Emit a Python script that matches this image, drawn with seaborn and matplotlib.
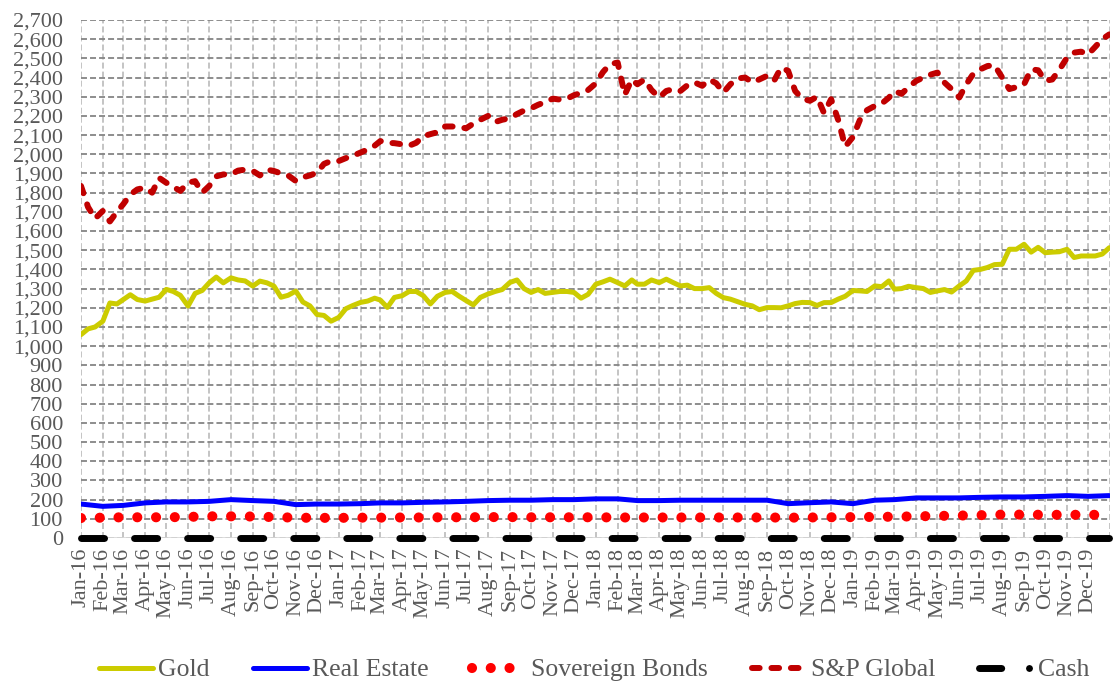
import numpy as np
import pandas as pd
import matplotlib
matplotlib.use('Agg')
import matplotlib.pyplot as plt
import seaborn as sns
from matplotlib.lines import Line2D
from matplotlib.ticker import FuncFormatter

sp_global = [
    1835, 1725, 1665, 1705, 1650, 1700, 1740, 1790, 1817, 1826, 1800, 1877,
    1852, 1830, 1809, 1852, 1860, 1800, 1835, 1885, 1895, 1895, 1915, 1920,
    1913, 1890, 1920, 1913, 1900, 1890, 1861, 1880, 1890, 1904, 1950, 1965,
    1965, 1980, 1992, 2009, 2025, 2045, 2069, 2060, 2058, 2052, 2045, 2060,
    2094, 2105, 2115, 2145, 2145, 2140, 2136, 2160, 2180, 2200, 2168, 2180,
    2188, 2210, 2228, 2240, 2258, 2272, 2290, 2285, 2290, 2308, 2320, 2335,
    2370, 2428, 2470, 2478, 2310, 2390, 2365, 2390, 2335, 2296, 2330, 2340,
    2330, 2360, 2375, 2357, 2390, 2370, 2322, 2365, 2395, 2400, 2375, 2390,
    2409, 2383, 2452, 2435, 2330, 2290, 2279, 2300, 2215, 2287, 2180, 2040,
    2090, 2180, 2230, 2252, 2265, 2295, 2330, 2315, 2350, 2383, 2400, 2415,
    2426, 2374, 2340, 2296, 2365, 2420, 2443, 2460, 2465, 2400, 2340, 2350,
    2365, 2443, 2438, 2383, 2390, 2440, 2504, 2530, 2535, 2521, 2560, 2600,
    2625,
]
gold = [
    1060, 1090, 1100, 1130, 1225, 1220, 1243, 1268, 1243, 1235, 1245, 1255,
    1296, 1285, 1265, 1209, 1275, 1290, 1330, 1360, 1330, 1356, 1345, 1340,
    1313, 1339, 1330, 1313, 1255, 1265, 1287, 1230, 1210, 1165, 1160, 1130,
    1150, 1195, 1212, 1228, 1235, 1250, 1240, 1202, 1254, 1263, 1285, 1285,
    1263, 1220, 1260, 1280, 1285, 1260, 1237, 1215, 1254, 1272, 1285, 1295,
    1332, 1345, 1300, 1280, 1295, 1275, 1280, 1285, 1285, 1280, 1250, 1270,
    1323, 1335, 1349, 1331, 1314, 1345, 1323, 1323, 1345, 1331, 1349, 1331,
    1314, 1318, 1300, 1300, 1305, 1275, 1253, 1245, 1232, 1218, 1210, 1190,
    1201, 1201, 1200, 1210, 1222, 1228, 1227, 1212, 1227, 1227, 1245, 1260,
    1290, 1288, 1285, 1314, 1310, 1340, 1297, 1300, 1312, 1305, 1300, 1280,
    1288, 1295, 1282, 1314, 1340, 1395, 1400, 1410, 1425, 1427, 1505, 1505,
    1531, 1490, 1515, 1487, 1490, 1492, 1505, 1462, 1470, 1470, 1470, 1480,
    1513,
]
# monthly values (1st of each month + Dec 31 2019)
real_estate = [
    177, 165, 170, 183, 188, 188, 191, 200, 195, 191, 174, 177,
    177, 179, 183, 183, 186, 188, 191, 195, 197, 197, 200, 200,
    204, 204, 195, 195, 197, 197, 197, 197, 197, 179, 184, 188,
    179, 197, 200, 209, 209, 209, 212, 214, 214, 217, 221, 217,
    221,
]
sov_bonds = [
    104, 106, 108, 108, 108, 110, 113, 113, 112, 109, 106, 105,
    105, 106, 106, 107, 107, 108, 108, 109, 109, 108, 108, 108,
    108, 107, 107, 107, 107, 107, 107, 107, 107, 106, 107, 108,
    109, 110, 111, 113, 115, 117, 119, 122, 122, 121, 121, 121,
    121,
]
cash = [0] * 49

end_day = pd.Timestamp(2019, 12, 31)
dates_10d = [pd.Timestamp(y, m, d) for y in range(2016, 2020)
             for m in range(1, 13) for d in (1, 11, 21)] + [end_day]
dates_m = [pd.Timestamp(y, m, 1) for y in range(2016, 2020)
           for m in range(1, 13)] + [end_day]

df_fast = pd.DataFrame({'date': dates_10d, 'Gold': gold, 'S&P Global': sp_global})
df_slow = pd.DataFrame({'date': dates_m, 'Real Estate': real_estate,
                        'Sovereign Bonds': sov_bonds, 'Cash': cash})

sns.set_style('white')
plt.rcParams['font.family'] = ['Liberation Serif', 'DejaVu Serif']
plt.rcParams['lines.scale_dashes'] = False
txt_col = '#595959'

fig = plt.figure(figsize=(11.13, 6.82), dpi=100)
ax = fig.add_axes([81 / 1113, 1 - 538 / 682, 1029 / 1113, 518 / 682])

gold_col = '#CCCC00'
re_col = '#0000FF'
bond_col = '#FF0000'
sp_col = '#C00000'

sns.lineplot(data=df_fast, x='date', y='Gold', ax=ax, color=gold_col, lw=3.6, zorder=4)
sns.lineplot(data=df_slow, x='date', y='Real Estate', ax=ax, color=re_col, lw=3.6, zorder=4)
sns.lineplot(data=df_slow, x='date', y='Sovereign Bonds', ax=ax, color=bond_col, lw=7.3, zorder=4)
ax.lines[-1].set_dashes((0.01, 13.5))
ax.lines[-1].set_dash_capstyle('round')
sns.lineplot(data=df_fast, x='date', y='S&P Global', ax=ax, color=sp_col, lw=4.3, zorder=5)
ax.lines[-1].set_dashes((5.5, 8.5))
ax.lines[-1].set_dash_capstyle('round')
sns.lineplot(data=df_slow, x='date', y='Cash', ax=ax, color='black', lw=5, zorder=5)
ax.lines[-1].set_dashes((16.6, 21.6))
ax.lines[-1].set_dash_capstyle('round')
ax.lines[-1].set_clip_on(False)

ax.set_xlim(pd.Timestamp(2016, 1, 1), pd.Timestamp(2020, 1, 1))
ax.set_ylim(0, 2700)
ax.set_yticks(np.arange(0, 2701, 100))
ax.yaxis.set_major_formatter(FuncFormatter(lambda v, p: f'{v:,.0f}'))

month_ticks = [pd.Timestamp(y, m, 1) for y in range(2016, 2020) for m in range(1, 13)]
ax.set_xticks(month_ticks + [pd.Timestamp(2020, 1, 1)])
ax.set_xticklabels([d.strftime('%b-%y') for d in month_ticks] + [''])

ax.tick_params(axis='both', length=0, labelsize=16, labelcolor=txt_col)
ax.tick_params(axis='y', pad=13)
ax.tick_params(axis='x', pad=7, rotation=90)
ax.set_xlabel('')
ax.set_ylabel('')
for s in ax.spines.values():
    s.set_visible(False)

ax.yaxis.grid(True, color='#858585', lw=1.3, linestyle=(0, (4.3, 2.2)), zorder=1)
ax.xaxis.grid(True, color='#BFBFBF', lw=1.3, linestyle=(0, (4.3, 2.2)), zorder=1)
ax.set_axisbelow(True)
ax.axhline(0, color='#D9D9D9', lw=2, zorder=2)

handles = [
    Line2D([], [], color=gold_col, lw=3.6),
    Line2D([], [], color=re_col, lw=3.6),
    Line2D([], [], color=bond_col, lw=7.3, dashes=(0.01, 13.5), dash_capstyle='round'),
    Line2D([], [], color=sp_col, lw=4.3, dashes=(5.5, 8.5), dash_capstyle='round'),
    Line2D([], [], color='black', lw=5, dashes=(16, 20, 0.01, 60), dash_capstyle='round'),
]
labels = ['Gold', 'Real Estate', 'Sovereign Bonds', 'S&P Global', 'Cash']
leg = fig.legend(handles, labels, loc='center', bbox_to_anchor=(594 / 1113, 12 / 682),
                 ncol=5, frameon=False, fontsize=18.5, handlelength=2.1,
                 handletextpad=0.2, columnspacing=1.7, labelcolor=txt_col)

fig.savefig('out.png', dpi=100)
plt.close(fig)
